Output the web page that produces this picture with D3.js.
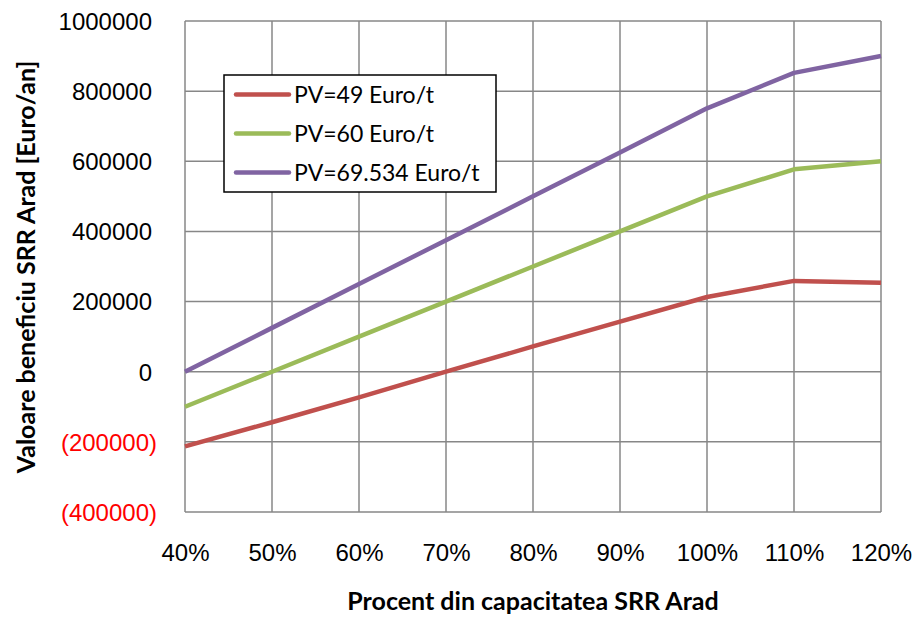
<!DOCTYPE html>
<html lang="ro">
<head>
<meta charset="UTF-8">
<title>Valoare beneficiu SRR Arad</title>
<script src="https://d3js.org/d3.v7.min.js"></script>
<style>
    body { margin: 0; background: #fff; }
    svg { display: block; font-family: Lato, "Open Sans", sans-serif; }
    .tick text { font-size: 24px; }
    .axis-title { font-size: 25px; font-weight: bold; }
    .legend text { font-size: 23px; }
</style>
</head>
<body>
<svg width="919" height="627"></svg>
<script>
    // capacity percentages
    const categories = [40, 50, 60, 70, 80, 90, 100, 110, 120];

    const seriesNames = ["PV=49 Euro/t", "PV=60 Euro/t", "PV=69.534 Euro/t"];
    const seriesColors = ["#C0504D", "#9BBB59", "#8064A2"];

    const pv49 = [-213000, -144000, -73000, 0, 72000, 143000, 213000, 259000, 254000];
    const pv60 = [-100000, 0, 100000, 200000, 300000, 400000, 500000, 577000, 600000];
    const pv69 = [0, 125000, 250000, 375000, 500000, 625000, 751000, 852000, 900000];

    const yTicks = [-400000, -200000, 0, 200000, 400000, 600000, 800000, 1000000];

    const svg = d3.select("svg");
    const margin = {top: 21, right: 38, bottom: 115, left: 185};
    const width = 919 - margin.left - margin.right;
    const height = 627 - margin.top - margin.bottom;

    const g = svg.append("g").attr("transform", `translate(${margin.left},${margin.top})`);

    const x = d3.scaleLinear().domain([40, 120]).range([0, width]);
    const y = d3.scaleLinear().domain([-400000, 1000000]).range([height, 0]);

    // grid
    g.append("g").selectAll("line.h")
        .data(yTicks)
        .join("line")
        .attr("x1", 0).attr("x2", width)
        .attr("y1", d => y(d)).attr("y2", d => y(d))
        .attr("stroke", "#878787").attr("stroke-width", 1.5);

    g.append("g").selectAll("line.v")
        .data(categories)
        .join("line")
        .attr("x1", d => x(d)).attr("x2", d => x(d))
        .attr("y1", 0).attr("y2", height)
        .attr("stroke", "#878787").attr("stroke-width", 1.5);

    // axes (labels only)
    const yAxis = g.append("g")
        .call(d3.axisLeft(y).tickValues(yTicks).tickSize(0).tickPadding(28)
            .tickFormat(d => d < 0 ? "(" + Math.abs(d) + ")" : String(d)));
    yAxis.select(".domain").remove();
    yAxis.selectAll(".tick text")
        .attr("fill", d => d < 0 ? "#FF0000" : "#000")
        .attr("dx", d => d < 0 ? 0 : -5)
        .attr("dy", "0.35em");

    const xAxis = g.append("g")
        .attr("transform", `translate(0,${height})`)
        .call(d3.axisBottom(x).tickValues(categories).tickSize(0).tickPadding(32)
            .tickFormat(d => d + "%"));
    xAxis.select(".domain").remove();
    xAxis.selectAll(".tick text").attr("fill", "#000");

    // lines
    const line = d3.line()
        .x((d, i) => x(categories[i]))
        .y(d => y(d));

    [pv49, pv60, pv69].forEach((s, i) => {
        g.append("path")
            .datum(s)
            .attr("fill", "none")
            .attr("stroke", seriesColors[i])
            .attr("stroke-width", 4.5)
            .attr("stroke-linejoin", "round")
            .attr("d", line);
    });

    // legend
    const legend = svg.append("g").attr("class", "legend").attr("transform", "translate(224,75)");
    legend.append("rect")
        .attr("width", 272).attr("height", 117)
        .attr("fill", "#fff").attr("stroke", "#000").attr("stroke-width", 1.5);
    seriesNames.forEach((name, i) => {
        const yy = 19.5 + i * 39;
        legend.append("line")
            .attr("x1", 12).attr("x2", 65)
            .attr("y1", yy).attr("y2", yy)
            .attr("stroke", seriesColors[i]).attr("stroke-width", 4.5)
            .attr("stroke-linecap", "round");
        legend.append("text")
            .attr("x", 70).attr("y", yy).attr("dy", "0.35em")
            .text(name);
    });

    // axis titles
    svg.append("text")
        .attr("class", "axis-title")
        .attr("x", margin.left + width / 2).attr("y", 610)
        .attr("text-anchor", "middle")
        .text("Procent din capacitatea SRR Arad");

    svg.append("text")
        .attr("class", "axis-title")
        .attr("transform", `translate(35,267) rotate(-90)`)
        .attr("text-anchor", "middle")
        .text("Valoare beneficiu SRR Arad [Euro/an]");
</script>
</body>
</html>
